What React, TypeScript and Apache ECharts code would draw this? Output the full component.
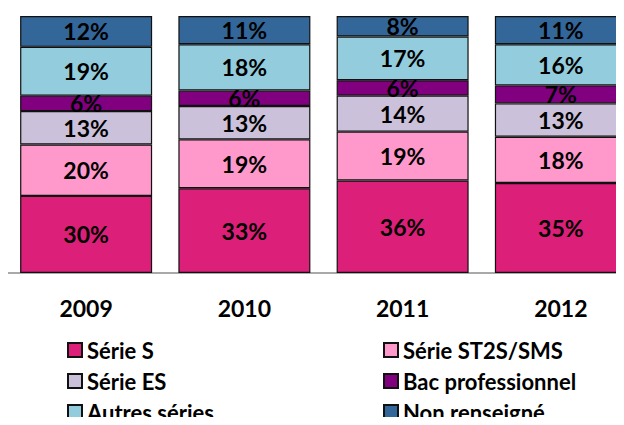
import React, { useEffect, useRef } from "react";
import * as echarts from "echarts";

const years = ["2009", "2010", "2011", "2012"];
const serieS = [30, 33, 36, 35];
const serieST2S = [20, 19, 19, 18];
const serieES = [13, 13, 14, 13];
const bacPro = [6, 6, 6, 7];
const autres = [19, 18, 17, 16];
const nonRenseigne = [12, 11, 8, 11];

const seriesNames = [
  "Série S",
  "Série ST2S/SMS",
  "Série ES",
  "Bac professionnel",
  "Autres séries",
  "Non renseigné",
];
const seriesData = [serieS, serieST2S, serieES, bacPro, autres, nonRenseigne];
const seriesColors = ["#DC1F78", "#FF99CC", "#CCC1DA", "#800080", "#93CDDD", "#336699"];

const FONT = "Lato";

export default function App() {
  const ref = useRef<HTMLDivElement>(null);
  useEffect(() => {
    if (!ref.current) return;
    const chart = echarts.init(ref.current, undefined, { renderer: "svg" });
    const legendText = {
      fontFamily: FONT,
      fontWeight: "bold",
      fontSize: 22,
      color: "#000",
      lineHeight: 22,
    };
    const legendBase = {
      orient: "vertical",
      top: 334,
      height: 200,
      itemWidth: 14,
      itemHeight: 14,
      itemGap: 9,
      icon: "rect",
      textStyle: legendText,
    };
    chart.setOption({
      animation: false,
      grid: {
        left: 7,
        width: 633,
        top: 16,
        bottom: 152,
        containLabel: false,
        outerBoundsMode: "none",
      },
      xAxis: {
        type: "category",
        data: years,
        axisLine: { show: true, lineStyle: { color: "#8c8c8c", width: 1.5 } },
        axisTick: { show: false },
        axisLabel: {
          fontFamily: FONT,
          fontWeight: "bold",
          fontSize: 23,
          color: "#000",
          margin: 23,
          lineHeight: 23,
        },
      },
      yAxis: { type: "value", min: 0, max: 100, show: false },
      legend: [
        {
          ...legendBase,
          left: 62,
          data: [seriesNames[0], seriesNames[2], seriesNames[4]],
        },
        {
          ...legendBase,
          left: 378,
          data: [seriesNames[1], seriesNames[3], seriesNames[5]],
        },
      ],
      series: seriesNames.map((name, i) => ({
        name,
        type: "bar",
        stack: "total",
        barWidth: 132,
        data: seriesData[i],
        itemStyle: { color: seriesColors[i], borderColor: "#111", borderWidth: 1.2 },
        label: {
          show: true,
          position: "inside",
          formatter: "{c}%",
          fontFamily: FONT,
          fontWeight: "bold",
          fontSize: 23,
          color: "#000",
          textBorderWidth: 0,
        },
      })),
    });
    return () => chart.dispose();
  }, []);
  return <div ref={ref} style={{ width: 624, height: 425, margin: -8 }} />;
}
